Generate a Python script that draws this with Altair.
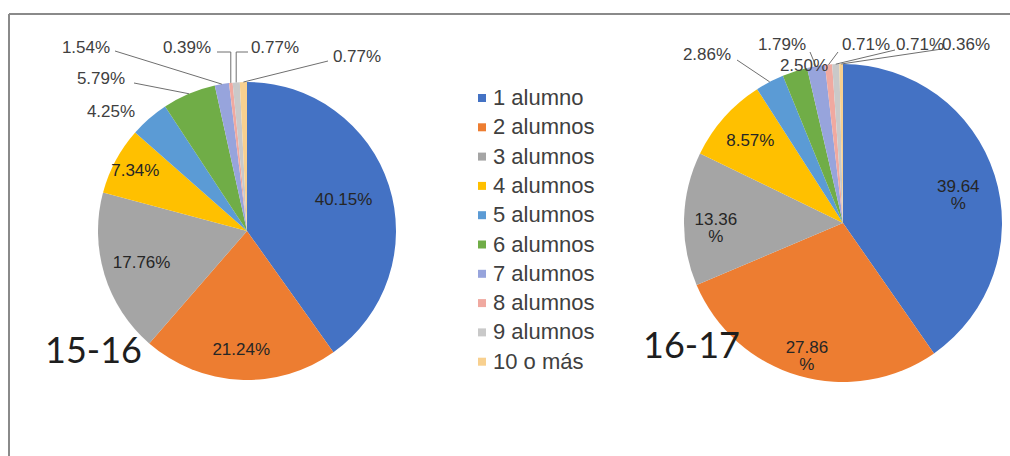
import altair as alt
import pandas as pd
import numpy as np

# ---------------- data ----------------
categories = ["1 alumno", "2 alumnos", "3 alumnos", "4 alumnos", "5 alumnos",
              "6 alumnos", "7 alumnos", "8 alumnos", "9 alumnos", "10 o más"]
pct_1516 = [40.15, 21.24, 17.76, 7.34, 4.25, 5.79, 1.54, 0.39, 0.77, 0.77]
pct_1617 = [39.64, 27.86, 13.36, 8.57, 2.86, 2.50, 1.79, 0.71, 0.71, 0.36]
years = ["15-16", "16-17"]

palette = ["#4472C4", "#ED7D31", "#A5A5A5", "#FFC000", "#5B9BD5",
           "#70AD47", "#97A4DC", "#F0A9A0", "#C9C9C9", "#F8D08F"]

# ---------------- layout (positions / styling only) ----------------
pie_layout = {
    "15-16": dict(cx=247, cy=231, r=149, tx=45, ty=363),
    "16-17": dict(cx=843, cy=223, r=159, tx=643, ty=358),
}
# inner labels: radius fraction for the four big slices
inner_frac = {"15-16": [0.68, 0.80, 0.74, 0.85], "16-17": [0.76, 0.82, 0.80, 0.78]}
inner_wrap = {"15-16": [False, False, False, False], "16-17": [True, True, True, False]}
# outer labels: category -> (label x, label y, leader start or None, elbow)
outer_layout = {
    "15-16": {
        "5 alumnos": (111, 112, None, False),
        "6 alumnos": (101, 79, (134, 83), False),
        "7 alumnos": (86, 48, (115, 51), False),
        "8 alumnos": (187, 48, (217, 52), True),
        "9 alumnos": (275, 48, (248, 52), True),
        "10 o más": (357, 57, (328, 61), False),
    },
    "16-17": {
        "5 alumnos": (707, 55, (737, 60), False),
        "6 alumnos": (804, 66, None, False),
        "7 alumnos": (782, 45, (810, 52), False),
        "8 alumnos": (866, 45, (838, 52), False),
        "9 alumnos": (920, 45, (895, 50), False),
        "10 o más": (966, 45, (942, 49), False),
    },
}

LABEL_FONT = "Liberation Sans"
TXT = "#404040"

color_enc = alt.Color(
    "cat:N",
    scale=alt.Scale(domain=categories, range=palette),
    sort=categories,
    legend=alt.Legend(orient="none", legendX=471, legendY=87, title=None,
                      symbolType="square", symbolSize=64, symbolStrokeWidth=0,
                      labelFontSize=22, labelFont=LABEL_FONT, labelColor=TXT,
                      rowPadding=7.3, labelOffset=0, padding=0, labelLimit=300),
)

layers = []

# frame (top and left edges)
one = pd.DataFrame({"a": [0]})
layers.append(alt.Chart(one).mark_rule(color="#8a8a8a", strokeWidth=2).encode(
    x=alt.value(9), y=alt.value(14), y2=alt.value(456)))
layers.append(alt.Chart(one).mark_rule(color="#8a8a8a", strokeWidth=2).encode(
    x=alt.value(9), x2=alt.value(1010), y=alt.value(14)))

outer_rows = []
line_rows = []
title_rows = []

for year, vals in zip(years, [pct_1516, pct_1617]):
    L = pie_layout[year]
    vals_a = np.array(vals)
    df = pd.DataFrame({"cat": categories, "idx": list(range(len(categories))), "value": vals})
    inner_txt = []
    lr = []
    for i, v in enumerate(vals):
        if i < 4:
            s = f"{v:.2f}\n%" if inner_wrap[year][i] else f"{v:.2f}%"
            inner_txt.append(s)
            lr.append(inner_frac[year][i] * L["r"])
        else:
            inner_txt.append("")
            lr.append(0.5 * L["r"])
    df["inner"] = inner_txt
    df["lr"] = lr

    arc = alt.Chart(df).mark_arc(radius=L["r"]).encode(
        theta=alt.Theta("value:Q", stack=True),
        color=color_enc,
        order=alt.Order("idx:Q"),
        x=alt.value(L["cx"]), y=alt.value(L["cy"]),
    )
    inner = alt.Chart(df).transform_window(
        cum="sum(value)", sort=[alt.SortField("idx")], frame=[None, 0]
    ).transform_joinaggregate(
        tot="sum(value)"
    ).transform_calculate(
        frac="(datum.cum - datum.value / 2) / datum.tot"
    ).transform_filter(
        "datum.inner != ''"
    ).mark_text(
        fontSize=17, font=LABEL_FONT, color="#262626", lineBreak="\n",
        align="center", baseline="middle", lineHeight=17,
    ).encode(
        theta=alt.Theta("frac:Q", scale=alt.Scale(domain=[0, 1], range=[0, 2 * np.pi])),
        radius=alt.Radius("lr:Q", scale=None),
        text="inner:N",
        x=alt.value(L["cx"]), y=alt.value(L["cy"]),
    )
    layers += [arc, inner]

    # mid angles of the slices from the data (clockwise from 12 o'clock)
    cum = np.cumsum(vals_a)
    tot = cum[-1]
    mids = (cum - vals_a / 2) / tot * 2 * np.pi
    for i, cat in enumerate(categories):
        if cat not in outer_layout[year]:
            continue
        lx, ly, start, elbow = outer_layout[year][cat]
        outer_rows.append({"x": lx, "y": ly, "t": f"{vals[i]:.2f}%"})
        if start is None:
            continue
        ax = L["cx"] + L["r"] * np.sin(mids[i])
        ay = L["cy"] - L["r"] * np.cos(mids[i])
        lid = f"{year}-{cat}"
        pts = [(start[0], start[1])]
        if elbow:
            pts.append((ax, start[1]))
        pts.append((ax, ay))
        for k, (px, py) in enumerate(pts):
            line_rows.append({"lid": lid, "seq": k, "x": px, "y": py})
    title_rows.append({"x": L["tx"], "y": L["ty"], "t": year})

lines = alt.Chart(pd.DataFrame(line_rows)).mark_line(color="#6f6f6f", strokeWidth=1).encode(
    x=alt.X("x:Q", scale=None, axis=None),
    y=alt.Y("y:Q", scale=None, axis=None),
    detail="lid:N",
    order="seq:Q",
)
outer_txt = alt.Chart(pd.DataFrame(outer_rows)).mark_text(
    fontSize=17, font=LABEL_FONT, color=TXT, align="center", baseline="middle"
).encode(
    x=alt.X("x:Q", scale=None, axis=None),
    y=alt.Y("y:Q", scale=None, axis=None),
    text="t:N",
)
titles = alt.Chart(pd.DataFrame(title_rows)).mark_text(
    fontSize=36, font="Lato", color="#1e1e1e", align="left", baseline="alphabetic"
).encode(
    x=alt.X("x:Q", scale=None, axis=None),
    y=alt.Y("y:Q", scale=None, axis=None),
    text="t:N",
)
layers += [lines, outer_txt, titles]

chart = alt.layer(*layers).resolve_scale(theta="independent").properties(
    width=1010, height=456, padding=0, autosize="none", background="white"
).configure_view(stroke=None)

chart.save("out.html", embed_options={"renderer": "svg", "actions": False})
